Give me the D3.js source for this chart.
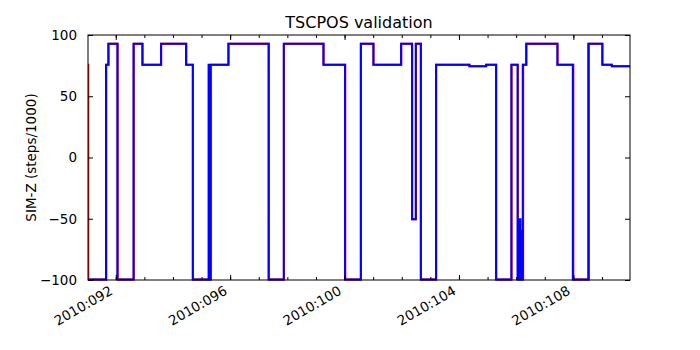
<!DOCTYPE html>
<html><head><meta charset="utf-8">
<script src="https://cdn.jsdelivr.net/npm/d3@7"></script>
<style>body{margin:0;background:#fff}svg{display:block}text{font-family:"DejaVu Sans",sans-serif;fill:#000}</style>
</head><body><div id="chart"></div>
<script>
// Day-of-year 2010 (fractional) for each step start, SIM-Z in steps/1000
const redTimes = [91.03, 91.04, 91.67, 91.75, 92.07, 92.63, 92.94, 93.59, 94.47, 94.70, 95.332, 95.945, 97.355, 97.88, 99.27, 100.025, 100.575, 101.015, 101.985, 102.365, 102.495, 102.672, 103.205, 104.37, 104.955, 105.305, 105.84, 106.06, 106.245, 106.36, 107.45, 108.0, 108.545, 109.02, 109.35, 109.98];
const redValues = [75.624, -99.616, 75.624, 92.904, -99.616, 92.904, 75.624, 92.904, 75.624, -99.616, 75.624, 92.904, -99.616, 92.904, 75.624, -99.616, 92.904, 75.624, 92.904, -50.505, 92.904, -99.616, 75.624, 74.5, 75.624, -99.616, 75.624, -99.616, 75.624, 92.904, 75.624, -99.616, 92.904, 75.624, 74.5, 74.5];
const blueTimes = [91.03, 91.66, 91.74, 92.056, 92.622, 92.93, 93.584, 94.458, 94.692, 95.245, 95.273, 95.308, 95.937, 97.343, 97.874, 99.259, 100.017, 100.566, 101.007, 101.976, 102.36, 102.49, 102.664, 103.199, 104.364, 104.948, 105.297, 105.832, 106.049, 106.09, 106.11, 106.13, 106.15, 106.17, 106.19, 106.231, 106.35, 107.44, 107.98, 108.52, 109.01, 109.34, 109.98];
const blueValues = [-99.616, 75.624, 92.904, -99.616, 92.904, 75.624, 92.904, 75.624, -99.616, 75.624, -99.616, 75.624, 92.904, -99.616, 92.904, 75.624, -99.616, 92.904, 75.624, 92.904, -50.505, 92.904, -99.616, 75.624, 74.5, 75.624, -99.616, 75.624, -99.616, -50.505, -99.616, -50.505, -99.616, -60, -99.616, 75.624, 92.904, 75.624, -99.616, 92.904, 75.624, 74.5, 74.5];
const xMajorTicks = [92, 96, 100, 104, 108];
const xTickLabels = ["2010:092", "2010:096", "2010:100", "2010:104", "2010:108"];
const xMinorTicks = [92,93,94,95,96,97,98,99,100,101,102,103,104,105,106,107,108,109];
const yTicks = [-100, -50, 0, 50, 100];
const xDomain = [91.03, 109.98];

const W = 700, H = 350;
const m = {l: 88, r: 70, t: 35, b: 70};
const x = d3.scaleLinear().domain(xDomain).range([m.l, W - m.r]);
const y = d3.scaleLinear().domain([-100, 100]).range([H - m.b, m.t]);

const svg = d3.select("#chart").append("svg").attr("width", W).attr("height", H);
svg.append("defs").append("clipPath").attr("id", "clip")
  .append("rect").attr("x", m.l).attr("y", m.t - 2).attr("width", W - m.l - m.r).attr("height", H - m.t - m.b + 4);

const line = d3.line().x(d => x(d[0])).y(d => y(d[1])).curve(d3.curveStepAfter);
const g = svg.append("g").attr("clip-path", "url(#clip)");
g.append("path").datum(d3.zip(redTimes, redValues)).attr("d", line)
  .attr("fill", "none").attr("stroke", "#ff0000").attr("stroke-width", 2);
g.append("path").datum(d3.zip(blueTimes, blueValues)).attr("d", line)
  .attr("fill", "none").attr("stroke", "#0000ff").attr("stroke-width", 2);

// axes (ticks inward, on all sides)
const pBottom = H - m.b, pTop = m.t, pLeft = m.l, pRight = W - m.r;
const addAxis = (axis, tx, ty) => {
  const a = svg.append("g").attr("transform", `translate(${tx},${ty})`).call(axis);
  a.select(".domain").remove();
  a.selectAll("line").attr("stroke", "#000");
  return a;
};
addAxis(d3.axisBottom(x).tickValues(xMinorTicks).tickSize(-3).tickFormat(""), 0, pBottom);
addAxis(d3.axisTop(x).tickValues(xMinorTicks).tickSize(-3).tickFormat(""), 0, pTop);
addAxis(d3.axisBottom(x).tickValues(xMajorTicks).tickSize(-5).tickFormat(""), 0, pBottom);
addAxis(d3.axisTop(x).tickValues(xMajorTicks).tickSize(-5).tickFormat(""), 0, pTop);
const yl = addAxis(d3.axisLeft(y).tickValues(yTicks).tickSize(-5).tickPadding(11).tickFormat(d => d < 0 ? "\u2212" + Math.abs(d) : d), pLeft, 0);
yl.selectAll("text").style("font-family", "DejaVu Sans").style("font-size", "13.5px").attr("fill", "#000");
addAxis(d3.axisRight(y).tickValues(yTicks).tickSize(-5).tickFormat(""), pRight, 0);

svg.append("rect").attr("x", pLeft).attr("y", pTop).attr("width", pRight - pLeft).attr("height", pBottom - pTop)
  .attr("fill", "none").attr("stroke", "#000").attr("stroke-width", 1);

// rotated date labels
svg.append("g").selectAll("text").data(xMajorTicks).join("text")
  .attr("transform", d => `translate(${x(d) - 7},${pBottom + 5}) rotate(-30)`)
  .attr("text-anchor", "end").attr("dy", "0.73em")
  .style("font-size", "13.5px")
  .text((d, i) => xTickLabels[i]);

svg.append("text").attr("x", (pLeft + pRight) / 2).attr("y", 28).attr("text-anchor", "middle")
  .style("font-size", "16px").text("TSCPOS validation");
svg.append("text").attr("transform", `translate(36,${(pTop + pBottom) / 2}) rotate(-90)`)
  .attr("text-anchor", "middle").style("font-size", "13.5px").text("SIM-Z (steps/1000)");
</script></body></html>
